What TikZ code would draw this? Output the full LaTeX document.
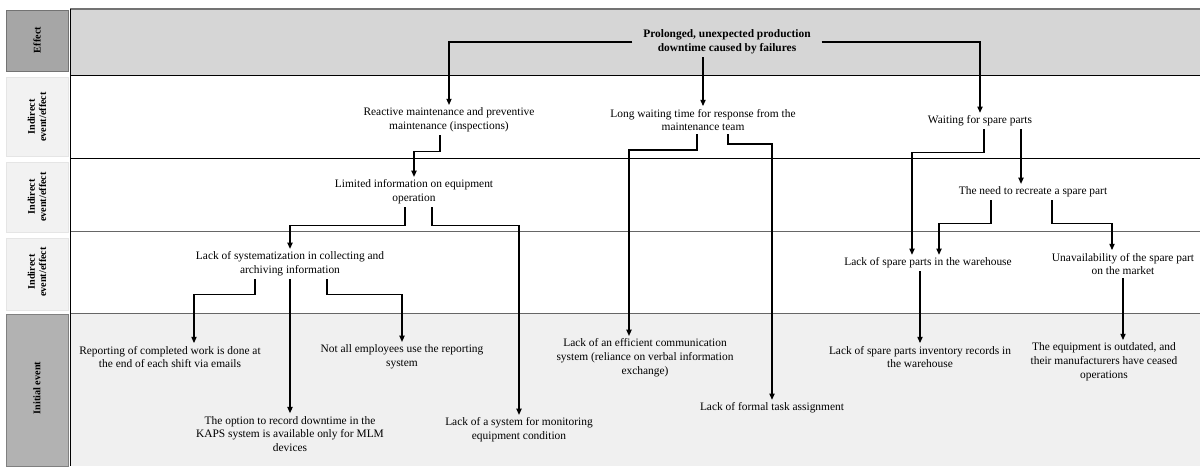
\documentclass[tikz,border=0pt]{standalone}
\usepackage{fontspec}
\setmainfont{Liberation Serif}
\usetikzlibrary{calc, arrows.meta}

\newcommand{\smallsize}{\fontsize{6.5}{7.9}\selectfont}

\begin{document}
\begin{tikzpicture}[x=0.02cm, y=-0.02cm,
  txt/.style={align=center, font=\smallsize, inner sep=1.5pt},
  head/.style={align=center, rotate=90, font=\bfseries\fontsize{5.8}{6.4}\selectfont},
  arr/.style={-{Triangle[length=3.5pt,width=3pt]}, line width=0.6pt},
  rowline/.style={line width=0.45pt}]
\useasboundingbox (0,0) rectangle (1200,468);

% Bands and grid
\fill[black!16] (70,9) rectangle (1200,75);
\fill[black!6] (70,313) rectangle (1200,466);
\draw[black!55, line width=1.1pt] (70,9) -- (1200,9);
\draw[rowline] (70,75) -- (1200,75);
\draw[rowline] (70,158) -- (1200,158);
\draw[rowline, black!60] (70,231) -- (1200,231);
\draw[rowline, black!60] (70,313) -- (1200,313);
\draw[rowline] (70,9) -- (70,466);

% Row labels
\filldraw[fill=black!35, draw=black!55] (6,10) rectangle (68,71);
\filldraw[fill=black!5, draw=black!10] (6,77) rectangle (68,156);
\filldraw[fill=black!5, draw=black!10] (6,162) rectangle (68,232);
\filldraw[fill=black!5, draw=black!10] (6,238) rectangle (68,310);
\filldraw[fill=black!30, draw=black!50] (6,314) rectangle (68,466);
\node[head] (hEffect) at (37,40) {Effect};
\node[head] (hInd1) at (37,117) {Indirect\\event/effect};
\node[head] (hInd2) at (37,197) {Indirect\\event/effect};
\node[head] (hInd3) at (37,272) {Indirect\\event/effect};
\node[head] (hInit) at (37,388) {Initial event};

% Effect
\node[txt, font=\bfseries\smallsize, inner xsep=6pt] (eff) at (727,42) {Prolonged, unexpected production\\downtime caused by failures};

% Indirect events/effects
\node[txt] (react) at (449,120) {Reactive maintenance and preventive\\maintenance (inspections)};
\node[txt] (long) at (703,120) {Long waiting time for response from the\\maintenance team};
\node[txt] (wait) at (980,121) {Waiting for spare parts};
\node[txt] (limited) at (414,192) {Limited information on equipment\\operation};
\node[txt] (need) at (1033,192) {The need to recreate a spare part};
\node[txt] (lacksys) at (290,264) {Lack of systematization in collecting and\\archiving information};
\node[txt] (spare) at (928,263) {Lack of spare parts in the warehouse};
\node[txt] (unav) at (1123,264) {Unavailability of the spare part\\on the market};

% Initial events
\node[txt] (report) at (170,357) {Reporting of completed work is done at\\the end of each shift via emails};
\node[txt] (notall) at (402,357) {Not all employees use the reporting\\system};
\node[txt] (option) at (290,434) {The option to record downtime in the\\KAPS system is available only for MLM\\devices};
\node[txt] (monitor) at (519,430) {Lack of a system for monitoring\\equipment condition};
\node[txt] (comm) at (645,358) {Lack of an efficient communication\\system (reliance on verbal information\\exchange)};
\node[txt] (task) at (772,408) {Lack of formal task assignment};
\node[txt] (inv) at (920,357) {Lack of spare parts inventory records in\\the warehouse};
\node[txt] (outd) at (1104,362) {The equipment is outdated, and\\their manufacturers have ceased\\operations};

% Links
\draw[arr] (eff.west) -| (react.north);
\draw[arr] (eff.south -| long.north) -- (long.north);
\draw[arr] (eff.east) -| (wait.north);
\draw[arr] ($(react.south)+(-9,0)$) -- ++(0,16) -| (limited.north);
\draw[arr] ($(long.south)+(-6,0)$) -- ++(0,16) -| ($(comm.north)+(-16,0)$);
\draw[arr] ($(long.south)+(25,0)$) -- ++(0,10) -| (task.north);
\draw[arr] ($(wait.south)+(4,0)$) -- ++(0,23) -| ($(spare.north)+(-16,0)$);
\draw[arr] ($(wait.south)+(41,0)$) -- ($(need.north)+(-12,0)$);
\draw[arr] ($(limited.south)+(-9,0)$) -- ++(0,18) -| (lacksys.north);
\draw[arr] ($(limited.south)+(18,0)$) -- ++(0,18) -| (monitor.north);
\draw[arr] ($(need.south)+(-42,0)$) -- ++(0,23) -| ($(spare.north)+(11,0)$);
\draw[arr] ($(need.south)+(19,0)$) -- ++(0,23) -| ($(unav.north)+(-11,0)$);
\draw[arr] ($(lacksys.south)+(-35,0)$) -- ++(0,15) -| ($(report.north)+(24,0)$);
\draw[arr] (lacksys.south) -- (option.north);
\draw[arr] ($(lacksys.south)+(37,0)$) -- ++(0,15) -| (notall.north);
\draw[arr] (inv.north |- spare.south) -- (inv.north);
\draw[arr] (unav.south) -- (unav.south |- outd.north);
\end{tikzpicture}
\end{document}
